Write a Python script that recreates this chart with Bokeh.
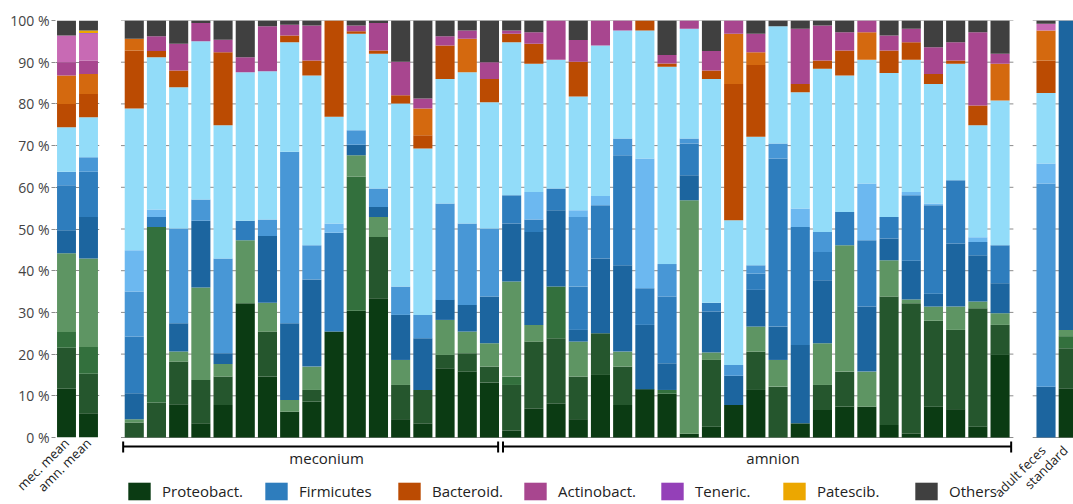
import numpy as np
from bokeh.plotting import figure
from bokeh.layouts import row
from bokeh.models import (ColumnDataSource, Range1d, FixedTicker, PrintfTickFormatter,
                          Legend, LegendItem, Label)
from bokeh.core.properties import value
from bokeh.embed import file_html
from bokeh.resources import INLINE

# ---------------- data ----------------
mean_labels = ["mec. mean", "amn. mean"]
ref_labels = ["adult feces", "standard"]
group_labels = ["meconium", "amnion"]
n_meconium = 17
n_amnion = 23
y_ticks = list(range(0, 101, 10))
y_tick_fmt = "%d %%"

legend_labels = ["Proteobact.", "Firmicutes", "Bacteroid.", "Actinobact.", "Teneric.", "Patescib.", "Others"]

# cumulative upper edge (%) of each colour layer, bar order:
# [2 means | 17 meconium | 23 amnion | adult feces, standard]
proteo1_top = [11.7, 5.8,
    0, 0, 8.0, 3.4, 7.8, 32.2, 14.6, 6.2, 8.6, 25.4, 30.4, 33.4, 4.4, 3.4, 16.6, 15.8, 13.2,
    1.7, 7.0, 8.2, 4.4, 15.0, 7.8, 11.6, 10.5, 0.9, 2.6, 7.8, 11.4, 0, 3.4, 6.6, 7.4, 7.4, 3.0, 1.0, 7.4, 6.8, 2.6, 19.8,
    0, 11.8]
proteo2_top = [21.5, 15.3,
    3.6, 8.4, 18.2, 13.8, 14.6, 32.2, 25.4, 6.2, 11.4, 25.4, 30.4, 48.1, 12.6, 11.4, 19.8, 20.2, 17.0,
    12.6, 23.0, 23.8, 14.6, 25.0, 17.0, 11.6, 10.5, 0.9, 18.6, 7.8, 20.6, 12.2, 3.4, 12.6, 15.8, 7.4, 33.8, 32.2, 28.0, 25.8, 31.0, 27.0,
    0, 21.4]
proteo3_top = [25.3, 21.7,
    3.6, 50.5, 18.2, 13.8, 14.6, 32.2, 25.4, 6.2, 11.4, 25.4, 62.6, 48.1, 12.6, 11.4, 19.8, 20.2, 17.0,
    14.6, 23.0, 36.2, 14.6, 25.0, 17.0, 11.6, 11.4, 0.9, 18.6, 7.8, 20.6, 12.2, 3.4, 12.6, 15.8, 7.4, 33.8, 32.2, 28.0, 25.8, 31.0, 27.0,
    0, 24.3]
proteo4_top = [44.2, 42.9,
    4.4, 50.5, 20.6, 36.0, 17.6, 47.3, 32.3, 9.0, 17.0, 25.4, 67.7, 52.9, 18.6, 11.4, 28.2, 25.4, 22.6,
    37.4, 27.0, 36.2, 23.0, 25.0, 20.6, 11.6, 11.4, 56.9, 20.4, 7.8, 26.6, 18.6, 3.4, 22.6, 46.1, 15.8, 42.5, 33.1, 31.4, 31.4, 32.6, 29.8,
    0, 25.8]
firmi1_top = [49.7, 52.9,
    10.6, 50.5, 27.4, 52.0, 20.2, 47.3, 48.3, 27.4, 37.9, 25.4, 70.2, 55.3, 29.4, 23.8, 33.0, 31.8, 33.8,
    51.3, 49.3, 54.5, 25.8, 42.9, 41.3, 27.0, 17.8, 62.9, 30.2, 14.8, 35.4, 26.6, 22.2, 37.7, 46.1, 31.4, 47.7, 42.4, 34.5, 46.5, 43.7, 37.0,
    12.2, 100]
firmi2_top = [60.5, 63.7,
    24.2, 52.9, 27.4, 52.0, 20.2, 52.0, 48.3, 27.4, 37.9, 49.1, 70.2, 55.3, 29.4, 23.8, 33.0, 31.8, 33.8,
    58.1, 52.3, 59.7, 36.2, 55.7, 67.7, 35.8, 33.8, 70.5, 32.3, 14.8, 39.3, 66.9, 50.5, 44.5, 54.1, 47.3, 52.9, 58.1, 55.7, 61.7, 46.9, 46.1,
    12.2, 100]
firmi3_top = [63.7, 67.2,
    35.0, 52.9, 50.1, 57.1, 42.9, 52.0, 52.3, 68.5, 46.1, 49.1, 73.7, 59.7, 36.2, 29.4, 56.1, 51.3, 50.1,
    58.1, 52.3, 59.7, 52.9, 55.7, 71.7, 35.8, 41.6, 71.7, 32.3, 17.4, 41.3, 70.5, 50.5, 49.3, 54.1, 47.3, 52.9, 58.1, 55.7, 61.7, 46.9, 46.1,
    60.9, 100]
firmi4_top = [63.7, 67.2,
    44.9, 54.7, 50.1, 57.1, 42.9, 52.0, 52.3, 68.5, 46.1, 51.3, 73.7, 59.7, 36.2, 29.4, 56.1, 51.3, 50.1,
    58.1, 58.9, 59.7, 54.5, 57.9, 71.7, 66.9, 41.6, 71.7, 32.3, 17.4, 41.3, 70.5, 54.9, 49.3, 54.1, 60.9, 52.9, 58.9, 56.1, 61.7, 48.0, 46.1,
    65.7, 100]
firmi5_top = [74.4, 76.8,
    78.9, 91.2, 84.0, 95.0, 74.9, 87.6, 87.8, 94.8, 86.8, 76.9, 96.8, 92.0, 80.1, 69.3, 86.0, 87.6, 80.4,
    94.8, 89.6, 90.6, 81.8, 94.0, 97.6, 97.6, 88.9, 98.0, 86.0, 52.1, 72.1, 98.6, 82.8, 88.4, 86.8, 90.6, 87.4, 90.6, 84.8, 89.6, 74.9, 80.8,
    82.6, 100]
bacter1_top = [80.0, 82.4,
    92.8, 92.7, 88.0, 95.0, 92.4, 87.6, 87.8, 96.4, 90.4, 100, 97.4, 92.8, 82.1, 72.5, 94.0, 87.6, 86.0,
    96.8, 94.4, 90.6, 90.1, 94.0, 97.6, 100, 89.7, 98.0, 88.0, 84.8, 89.3, 98.6, 84.8, 90.4, 92.8, 90.6, 92.8, 94.8, 87.2, 90.4, 79.6, 80.8,
    90.4, 100]
bacter2_top = [86.8, 87.2,
    95.6, 92.7, 88.0, 95.0, 92.4, 87.6, 87.8, 96.4, 90.4, 100, 97.4, 92.8, 82.1, 78.9, 94.0, 95.6, 86.0,
    96.8, 94.4, 90.6, 90.1, 94.0, 97.6, 100, 89.7, 98.0, 88.0, 96.8, 92.4, 98.6, 84.8, 90.4, 92.8, 97.2, 92.8, 94.8, 87.2, 90.4, 79.6, 89.6,
    97.6, 100]
actino1_top = [90.0, 90.4,
    95.6, 96.2, 94.4, 99.4, 95.4, 91.2, 98.6, 99.0, 98.8, 100, 98.8, 99.4, 90.1, 81.3, 96.2, 97.6, 90.0,
    97.6, 97.2, 100, 95.3, 100, 100, 100, 91.7, 100, 92.7, 100, 96.8, 98.6, 98.0, 98.8, 97.2, 100, 96.4, 98.0, 93.6, 94.8, 97.2, 92.0,
    97.6, 100]
actino2_top = [96.4, 96.8,
    95.6, 96.2, 94.4, 99.4, 95.4, 91.2, 98.6, 99.0, 98.8, 100, 98.8, 99.4, 90.1, 81.3, 96.2, 97.6, 90.0,
    97.6, 97.2, 100, 95.3, 100, 100, 100, 91.7, 100, 92.7, 100, 96.8, 98.6, 98.0, 98.8, 97.2, 100, 96.4, 98.0, 93.6, 94.8, 97.2, 92.0,
    99.2, 100]
teneric_top = [96.4, 97.0,
    95.6, 96.2, 94.4, 99.4, 95.4, 91.2, 98.6, 99.0, 98.8, 100, 98.8, 99.4, 90.1, 81.3, 96.2, 97.6, 90.0,
    97.6, 97.2, 100, 95.3, 100, 100, 100, 91.7, 100, 92.7, 100, 96.8, 98.6, 98.0, 98.8, 97.2, 100, 96.4, 98.0, 93.6, 94.8, 97.2, 92.0,
    99.2, 100]
patesc_top = [96.4, 97.6,
    95.6, 96.2, 94.4, 99.4, 95.4, 91.2, 98.6, 99.0, 98.8, 100, 98.8, 99.4, 90.1, 81.3, 96.2, 97.6, 90.0,
    97.6, 97.2, 100, 95.3, 100, 100, 100, 91.7, 100, 92.7, 100, 96.8, 98.6, 98.0, 98.8, 97.2, 100, 96.4, 98.0, 93.6, 94.8, 97.2, 92.0,
    99.2, 100]
others_top = [100] * 44

layer_names = ["proteo1", "proteo2", "proteo3", "proteo4",
               "firmi1", "firmi2", "firmi3", "firmi4", "firmi5",
               "bacter1", "bacter2", "actino1", "actino2",
               "teneric", "patesc", "others"]
layer_tops = [proteo1_top, proteo2_top, proteo3_top, proteo4_top,
              firmi1_top, firmi2_top, firmi3_top, firmi4_top, firmi5_top,
              bacter1_top, bacter2_top, actino1_top, actino2_top,
              teneric_top, patesc_top, others_top]
layer_colors = ["#0b3b13", "#25562d", "#33703d", "#5e9563",
                "#1c659f", "#2e7dbd", "#4897d6", "#6cb8f0", "#92dcf9",
                "#bb4b02", "#d4690f", "#a8468f", "#c86ab4",
                "#9440b8", "#eca700", "#404040"]
legend_layer = [0, 5, 9, 11, 13, 14, 15]
legend_x_px = [5, 142, 275, 401, 538, 660, 792]   # legend entry offsets (layout)

# ---------------- geometry ----------------
FONT = "Open Sans"
H = 504
MT = 20
ZERO_PX = 437            # pixel row of 0 %
pitch_px = 22.2
bar_w = 0.86
grid_color = "#8c8c8c"

n_mean = len(mean_labels)
n_ref = len(ref_labels)
n_mid = n_meconium + n_amnion

# heights of each layer from the cumulative edges
prev = np.zeros(len(others_top))
heights = {}
for name, top in zip(layer_names, layer_tops):
    top = np.array(top, dtype=float)
    heights[name] = top - prev
    prev = top

# ---------- left panel (means) with y axis ----------
WA, MLA = 104, 55
x_mean = 0.5 + np.arange(n_mean)
srcA = ColumnDataSource(dict(x=x_mean, **{k: v[:n_mean] for k, v in heights.items()}))
pA = figure(width=WA, height=H, output_backend="svg", toolbar_location=None,
            x_range=Range1d(0, n_mean), y_range=Range1d(0, 100),
            min_border_left=MLA, min_border_right=WA - MLA - 44,
            min_border_top=MT, min_border_bottom=H - ZERO_PX)
pA.frame_align = False
pA.outline_line_color = None
pA.xgrid.visible = False
pA.ygrid.ticker = FixedTicker(ticks=y_ticks)
pA.ygrid.grid_line_color = grid_color
pA.vbar_stack(layer_names, x="x", width=bar_w, color=layer_colors, line_color=None, source=srcA)

ay = pA.yaxis[0]
ay.ticker = FixedTicker(ticks=y_ticks)
ay.formatter = PrintfTickFormatter(format=y_tick_fmt)
ay.axis_line_color = None
ay.major_tick_line_color = grid_color
ay.major_tick_out = 4
ay.major_tick_in = 0
ay.minor_tick_line_color = None
ay.major_label_standoff = 2
ay.major_label_text_font = FONT
ay.major_label_text_font_size = "14px"
ay.major_label_text_color = "#444444"

axx = pA.xaxis[0]
axx.ticker = FixedTicker(ticks=list(x_mean))
axx.major_label_overrides = {float(x): t for x, t in zip(x_mean, mean_labels)}
axx.major_label_orientation = np.pi / 4
axx.axis_line_color = None
axx.major_tick_line_color = None
axx.major_tick_out = 0
axx.major_tick_in = 0
axx.minor_tick_line_color = None
axx.minor_tick_out = 0
axx.major_label_standoff = 3
axx.major_label_text_font = FONT
axx.major_label_text_font_size = "13px"
axx.major_label_text_color = "#222222"

# ---------- middle + right panels ----------
WB = 1073 - WA
MLB = 120 - WA
frame_wB = WB - MLB
y_bottom = -(H - ZERO_PX) / ((ZERO_PX - MT) / 100.0)
x_mid = 0.62 + np.arange(n_mid)
x_ref = x_mid[-1] + 2.07 + np.arange(n_ref)
srcB = ColumnDataSource(dict(x=np.concatenate([x_mid, x_ref]),
                             **{k: v[n_mean:] for k, v in heights.items()}))
pB = figure(width=WB, height=H, output_backend="svg", toolbar_location=None,
            x_range=Range1d(0, frame_wB / pitch_px), y_range=Range1d(y_bottom, 100),
            x_axis_location=None, y_axis_location=None,
            min_border_left=MLB, min_border_right=0, min_border_top=MT, min_border_bottom=0)
pB.frame_align = False
pB.outline_line_color = None
pB.grid.visible = False

panels = [(x_mid[0] - 0.6, x_mid[-1] + 0.6), (x_ref[0] - 0.6, x_ref[-1] + 0.9)]
gx0, gx1, gy = [], [], []
for a, b in panels:
    for t in y_ticks:
        gx0.append(a); gx1.append(b); gy.append(t)
pB.segment(x0=gx0, y0=gy, x1=gx1, y1=gy, line_color=grid_color, line_width=1, level="underlay")

rs = pB.vbar_stack(layer_names, x="x", width=bar_w, color=layer_colors, line_color=None, source=srcB)

# brackets for sample groups
bracket_y, cap_lo, cap_hi = -2.16, -3.6, -0.96
boundary = x_mid[n_meconium - 1] + 0.5
mec_a, mec_b = x_mid[0] - 0.5, boundary - 0.11
amn_a, amn_b = boundary + 0.11, x_mid[-1] + 0.5
pB.segment(x0=[mec_a, amn_a], y0=[bracket_y] * 2, x1=[mec_b, amn_b], y1=[bracket_y] * 2,
           line_color="black", line_width=2)
caps = [mec_a, mec_b, amn_a, amn_b]
pB.segment(x0=caps, y0=[cap_lo] * 4, x1=caps, y1=[cap_hi] * 4, line_color="black", line_width=2)
pB.text(x=[(mec_a + mec_b) / 2, (amn_a + amn_b) / 2], y=[-4.8, -4.8], text=group_labels,
        x_offset=16, text_align="center", text_baseline="middle",
        text_font=value(FONT), text_font_size="15px", text_color="#222222")

# rotated labels of the reference bars
for xv, t in zip(x_ref, ref_labels):
    pB.add_layout(Label(x=xv, y=-2.5, text=t, angle=np.pi / 4, x_offset=-3,
                        text_align="right", text_baseline="middle",
                        text_font=FONT, text_font_size="13px", text_color="#222222"))

# legend entries
for lab, i, lx in zip(legend_labels, legend_layer, legend_x_px):
    leg = Legend(items=[LegendItem(label=lab, renderers=[rs[i]])], location=(lx, 2),
                 glyph_width=28, glyph_height=22, label_standoff=9,
                 padding=0, margin=0, border_line_color=None, background_fill_alpha=0,
                 label_text_font=FONT, label_text_font_size="15px", label_text_color="#222222")
    pB.add_layout(leg)

layout = row(pA, pB, spacing=0)
open("out.html", "w").write(file_html(layout, INLINE))
